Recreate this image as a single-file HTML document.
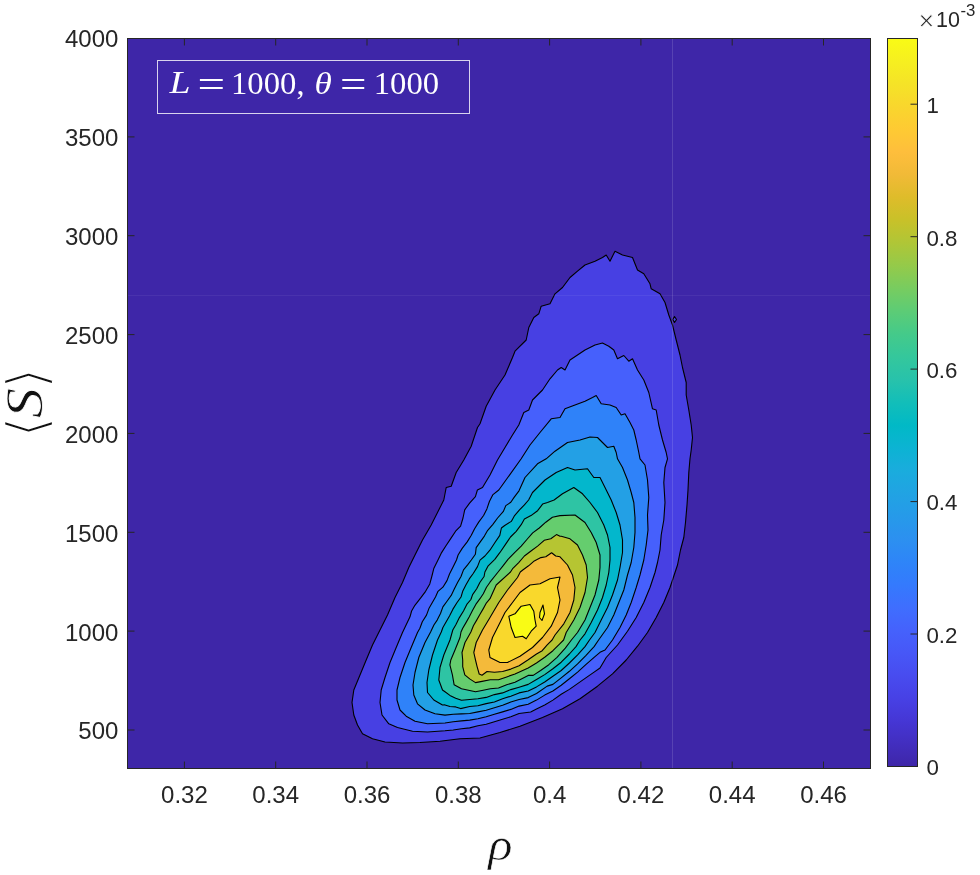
<!DOCTYPE html>
<html lang="en"><head><meta charset="utf-8"><title>Contour plot</title>
<style>
html,body{margin:0;padding:0;background:#fff;}
body{width:980px;height:875px;overflow:hidden;position:relative;}
svg{position:absolute;left:0;top:0;display:block;}
.t{font-family:"Liberation Sans",sans-serif;fill:#262626;}
.m{font-family:"Liberation Serif","DejaVu Serif",serif;}
.b{font-family:"DejaVu Sans","DejaVu Serif",sans-serif;}
</style></head><body>
<svg width="980" height="875" viewBox="0 0 980 875">
<defs><linearGradient id="pg" x1="0" y1="0" x2="0" y2="1"><stop offset="0.0000" stop-color="#f9fb15"/><stop offset="0.0312" stop-color="#f6ef20"/><stop offset="0.0625" stop-color="#f5e327"/><stop offset="0.0938" stop-color="#f9d62d"/><stop offset="0.1250" stop-color="#feca33"/><stop offset="0.1562" stop-color="#febe3c"/><stop offset="0.1875" stop-color="#f1ba37"/><stop offset="0.2188" stop-color="#debc2a"/><stop offset="0.2500" stop-color="#c8c129"/><stop offset="0.2812" stop-color="#afc637"/><stop offset="0.3125" stop-color="#94ca4a"/><stop offset="0.3438" stop-color="#77cc60"/><stop offset="0.3750" stop-color="#5ccc76"/><stop offset="0.4062" stop-color="#44ca8a"/><stop offset="0.4375" stop-color="#34c79c"/><stop offset="0.4688" stop-color="#28c2ab"/><stop offset="0.5000" stop-color="#12beb9"/><stop offset="0.5312" stop-color="#01b9c6"/><stop offset="0.5625" stop-color="#0cb3d3"/><stop offset="0.5938" stop-color="#1aacdd"/><stop offset="0.6250" stop-color="#21a3e3"/><stop offset="0.6562" stop-color="#269ae9"/><stop offset="0.6875" stop-color="#2c90f0"/><stop offset="0.7188" stop-color="#2e85f8"/><stop offset="0.7500" stop-color="#347afd"/><stop offset="0.7812" stop-color="#3f6efe"/><stop offset="0.8125" stop-color="#4562fc"/><stop offset="0.8438" stop-color="#4757f7"/><stop offset="0.8750" stop-color="#484cef"/><stop offset="0.9062" stop-color="#4741e5"/><stop offset="0.9375" stop-color="#4536d5"/><stop offset="0.9688" stop-color="#422ebf"/><stop offset="1.0000" stop-color="#3e26a8"/></linearGradient><clipPath id="ac"><rect x="127.5" y="38.5" width="743.0" height="730.0"/></clipPath></defs>
<rect x="127.5" y="38.5" width="743.0" height="730.0" fill="#3e26a8"/>
<g clip-path="url(#ac)" stroke="#000" stroke-width="1.1" stroke-linejoin="round">
<path d="M352.0 702.5 L353.8 690.0 L360.0 675.0 L366.2 660.0 L372.5 645.0 L380.0 630.0 L387.5 615.0 L395.0 597.5 L402.5 582.5 L408.8 567.5 L415.0 555.0 L422.5 540.0 L431.2 525.0 L437.5 512.5 L443.8 500.0 L446.2 487.5 L451.2 486.2 L456.2 472.5 L463.8 460.0 L471.2 446.2 L477.5 427.5 L480.0 423.8 L486.2 406.2 L495.0 390.0 L505.0 375.0 L512.5 357.5 L515.0 351.2 L526.2 340.0 L528.8 327.5 L533.8 317.5 L538.8 313.8 L541.2 306.2 L550.0 303.8 L555.0 293.8 L562.5 287.5 L570.0 277.5 L577.5 271.2 L585.0 265.0 L595.0 261.2 L602.5 257.5 L606.2 255.0 L610.0 261.2 L615.0 251.2 L622.5 255.0 L632.5 257.5 L637.5 270.0 L643.8 273.8 L650.0 283.8 L651.2 288.8 L660.0 293.8 L665.0 302.5 L668.8 315.0 L672.5 325.0 L676.2 340.0 L680.0 355.0 L682.5 367.5 L686.2 382.5 L686.2 395.0 L688.8 410.0 L691.2 425.0 L692.5 437.5 L691.2 450.0 L690.0 458.8 L688.8 472.5 L688.0 490.0 L687.0 505.0 L685.5 522.5 L683.8 537.5 L680.5 550.0 L677.5 565.0 L675.0 572.5 L670.0 587.5 L663.8 602.5 L656.2 617.5 L647.5 632.5 L637.5 646.2 L626.2 660.0 L612.5 673.8 L597.5 686.2 L580.0 698.8 L562.5 708.8 L542.5 717.5 L520.0 726.2 L500.0 732.5 L480.0 738.0 L460.0 738.8 L440.0 741.2 L420.0 742.5 L402.5 743.0 L385.0 742.0 L372.5 738.8 L362.5 733.8 L357.5 725.0 L353.8 715.0Z" fill="#4740e3"/>
<path d="M674.5 316.5 L676.5 319.5 L674.5 322.5 L672.8 319.5Z" fill="#4740e3"/>
<path d="M410.0 616.8 L411.6 611.0 L414.9 605.3 L420.7 597.9 L425.6 591.3 L429.8 583.9 L431.8 576.5 L433.9 568.2 L438.0 560.0 L441.6 552.6 L445.8 546.0 L450.7 538.6 L455.6 531.2 L460.6 526.2 L463.0 518.0 L464.7 509.8 L469.6 503.2 L475.4 496.6 L477.4 490.0 L482.5 487.5 L490.0 475.0 L497.5 460.0 L505.0 447.5 L512.5 435.0 L518.8 425.0 L523.8 412.5 L528.8 410.0 L532.5 400.0 L542.5 390.0 L550.0 378.8 L557.5 370.0 L561.2 367.5 L565.0 370.0 L570.0 360.0 L577.5 355.0 L585.0 350.0 L595.0 345.0 L602.5 343.0 L608.8 346.2 L613.8 350.0 L617.5 358.8 L623.8 355.5 L628.8 361.2 L632.5 358.8 L637.5 370.0 L643.8 380.0 L648.8 392.5 L652.5 408.8 L656.2 410.0 L658.8 425.0 L662.5 440.0 L666.2 452.5 L667.5 458.8 L665.0 467.5 L663.8 482.5 L665.0 502.5 L663.8 520.0 L661.2 535.0 L660.0 550.0 L657.5 562.5 L655.0 572.5 L650.0 587.5 L643.8 602.5 L636.2 617.5 L627.5 631.2 L617.5 645.0 L606.2 657.5 L600.0 668.0 L594.1 672.1 L585.8 677.9 L577.6 683.6 L569.4 689.4 L561.2 694.3 L552.9 700.1 L544.7 705.0 L536.5 709.1 L530.7 712.0 L519.1 713.5 L510.8 716.8 L502.6 719.3 L494.4 721.7 L486.2 724.2 L477.9 725.8 L469.7 727.9 L461.5 728.7 L453.2 730.0 L445.0 730.8 L427.5 732.0 L412.5 731.2 L397.5 727.5 L388.8 723.8 L382.0 715.0 L380.0 702.5 L381.2 690.0 L385.0 677.5 L390.0 662.5 L396.2 647.5 L402.5 632.5Z" fill="#4660fc"/>
<path d="M419.9 628.3 L422.3 621.7 L426.5 615.1 L428.9 608.6 L432.2 602.8 L435.5 597.0 L438.0 591.3 L442.9 587.2 L447.0 580.6 L449.5 574.0 L452.8 567.4 L456.5 560.0 L458.1 555.0 L462.2 548.4 L467.2 541.9 L471.3 535.3 L474.6 528.7 L478.7 522.1 L483.6 515.5 L486.9 508.9 L489.4 501.5 L492.7 494.9 L498.8 490.0 L521.2 458.8 L530.0 445.0 L540.0 432.5 L551.2 418.8 L560.0 417.5 L565.0 408.8 L575.0 405.0 L585.0 401.2 L592.5 397.5 L596.2 395.5 L601.2 403.8 L610.0 405.0 L616.2 407.5 L621.2 415.0 L625.0 413.8 L630.0 422.5 L633.8 430.0 L636.2 440.0 L638.8 452.5 L640.0 458.8 L645.0 465.0 L647.5 480.0 L648.8 497.5 L647.5 515.0 L648.0 530.0 L646.2 545.0 L643.8 560.0 L640.0 575.0 L636.2 587.5 L631.2 602.5 L626.2 615.0 L620.0 627.5 L612.5 640.0 L605.0 650.0 L600.0 652.3 L594.1 657.3 L585.8 664.7 L577.6 672.1 L569.4 678.7 L561.2 685.3 L552.9 691.0 L544.7 695.1 L536.5 700.1 L528.2 704.2 L519.1 706.1 L510.8 709.4 L502.6 711.9 L494.4 714.3 L486.2 716.8 L477.9 718.8 L469.7 720.1 L461.5 720.9 L453.2 721.7 L445.0 723.0 L427.5 723.8 L415.0 721.2 L406.2 716.2 L400.0 710.0 L397.0 700.0 L397.0 690.0 L400.0 677.5 L405.0 662.5 L411.2 647.5 L417.5 632.5Z" fill="#2f82f9"/>
<path d="M430.6 632.0 L433.9 625.0 L437.2 620.1 L440.5 613.5 L442.9 606.9 L447.0 601.2 L451.2 595.4 L454.4 588.8 L457.7 582.2 L461.0 576.5 L463.5 569.9 L467.6 564.9 L471.3 560.0 L475.4 554.2 L476.2 547.6 L480.3 541.9 L484.4 536.1 L487.7 530.3 L492.7 524.6 L497.6 518.0 L503.4 511.4 L505.8 505.6 L510.8 502.3 L514.1 497.4 L519.0 490.8 L525.0 477.5 L537.5 463.8 L546.2 458.8 L555.0 451.2 L567.5 442.5 L580.0 440.0 L590.0 437.0 L597.5 437.5 L602.5 442.5 L607.5 447.5 L613.8 446.2 L616.2 452.5 L617.5 458.8 L622.5 467.5 L627.5 480.0 L631.2 492.5 L633.8 502.5 L635.0 517.5 L635.0 532.5 L633.8 547.5 L631.2 562.5 L627.5 575.0 L623.8 590.0 L618.8 602.5 L613.8 615.0 L607.5 627.5 L598.6 640.0 L594.1 646.6 L585.8 655.6 L577.6 663.9 L569.4 671.3 L561.2 677.9 L552.9 684.4 L547.2 686.1 L536.5 693.5 L528.2 697.6 L519.1 699.5 L510.8 702.0 L502.6 705.3 L494.4 707.7 L486.2 710.2 L477.9 711.9 L469.7 713.5 L461.5 713.9 L453.2 714.3 L445.0 715.1 L435.0 713.8 L425.0 710.0 L417.5 703.8 L413.8 695.0 L413.0 685.0 L415.0 672.5 L418.8 657.5 L425.0 642.5Z" fill="#23a0e5"/>
<path d="M480.0 560.1 L484.9 556.0 L489.9 550.2 L494.8 542.8 L499.8 535.4 L501.4 528.0 L504.7 525.5 L511.3 521.4 L514.6 515.6 L519.5 509.9 L524.4 504.9 L528.6 500.0 L532.5 492.5 L545.0 480.0 L556.2 472.5 L567.5 467.5 L575.0 470.0 L587.5 468.8 L593.8 477.5 L600.0 477.5 L605.0 487.5 L611.2 500.0 L616.2 512.5 L620.0 525.0 L622.5 540.0 L622.5 552.5 L620.0 567.5 L617.5 580.0 L612.5 595.0 L607.5 607.5 L601.2 620.0 L595.0 632.5 L589.5 640.0 L585.0 646.6 L577.6 654.8 L569.4 663.0 L561.2 670.5 L552.9 676.2 L544.7 682.0 L536.5 686.9 L528.2 691.0 L519.1 692.9 L510.8 696.2 L502.6 698.7 L494.4 702.0 L486.2 703.6 L477.9 705.7 L469.7 706.5 L460.6 708.6 L455.7 706.9 L449.9 706.5 L445.0 704.9 L442.5 705.0 L433.8 700.0 L427.5 692.5 L427.0 682.5 L428.8 670.0 L432.5 655.0 L437.5 640.0 L441.3 632.0 L442.9 627.5 L446.2 621.7 L449.5 616.0 L452.8 609.4 L456.9 602.8 L461.0 597.0 L462.7 591.3 L466.0 584.7 L469.3 578.9 L473.4 573.2 L477.5 566.6Z" fill="#03b7cc"/>
<path d="M484.9 572.0 L488.2 565.8 L494.8 559.3 L499.8 552.7 L505.5 544.4 L510.5 537.0 L516.2 531.3 L521.2 524.7 L524.4 518.9 L531.0 515.6 L537.6 510.7 L542.6 504.1 L547.5 502.5 L554.1 500.0 L562.5 493.8 L573.8 487.5 L582.5 493.8 L590.0 502.5 L597.5 512.5 L603.8 525.0 L607.5 535.0 L610.0 547.5 L610.0 560.0 L608.8 572.5 L606.2 585.0 L602.5 597.5 L597.5 610.0 L591.2 622.5 L585.0 633.8 L580.1 640.0 L576.0 646.6 L569.4 654.0 L561.2 662.2 L552.9 668.8 L544.7 674.6 L536.5 679.5 L528.2 684.4 L519.1 687.2 L510.8 689.6 L502.6 692.9 L494.4 694.6 L486.2 697.4 L477.9 698.7 L469.7 699.5 L461.5 700.3 L455.7 698.3 L449.9 695.4 L445.0 691.7 L442.5 690.0 L438.8 680.0 L440.0 667.5 L443.8 655.0 L450.0 640.0 L452.8 630.0 L456.1 624.2 L459.4 617.6 L463.5 611.0 L466.8 604.4 L470.9 599.5 L472.6 594.6 L476.7 588.8 L480.0 582.2 L484.1 576.5Z" fill="#2ec4a4"/>
<path d="M498.1 572.0 L503.0 565.8 L508.0 559.3 L514.6 552.7 L521.2 546.1 L526.9 539.5 L532.7 532.9 L539.3 528.0 L545.8 522.2 L552.4 517.3 L560.0 515.6 L575.0 515.0 L585.0 522.5 L591.2 532.5 L596.2 542.5 L600.0 555.0 L600.0 567.5 L598.8 580.0 L595.0 595.0 L590.0 607.5 L585.0 620.0 L577.5 632.5 L571.4 640.0 L565.3 648.2 L557.0 657.3 L548.8 664.7 L540.6 670.5 L533.2 675.4 L528.2 675.4 L515.0 682.2 L506.7 684.7 L498.5 688.0 L490.3 688.8 L482.0 690.5 L475.5 691.7 L469.7 690.5 L461.5 688.8 L454.1 684.7 L452.4 674.8 L449.9 664.9 L450.8 660.0 L455.0 650.0 L460.0 637.5 L461.0 632.0 L462.7 628.3 L466.0 622.6 L469.3 616.8 L472.6 610.2 L475.8 604.4 L480.0 598.7 L483.3 593.7 L486.5 587.2 L490.0 582.2Z" fill="#65cd6e"/>
<path d="M510.5 572.0 L512.9 568.3 L518.7 562.6 L524.4 556.0 L531.0 551.0 L537.6 546.1 L544.2 540.3 L550.8 538.7 L556.5 534.6 L560.0 536.2 L561.2 536.2 L570.0 538.8 L577.5 545.0 L582.5 555.0 L586.2 565.0 L587.5 577.5 L585.0 592.5 L580.0 607.5 L573.8 620.0 L566.2 632.5 L563.6 640.0 L559.5 644.1 L552.9 650.7 L544.7 657.3 L536.5 663.0 L528.2 668.0 L515.0 674.0 L506.7 676.9 L498.5 679.8 L490.3 679.8 L482.0 681.4 L475.5 682.6 L469.7 678.9 L464.8 674.8 L462.7 666.6 L462.7 660.0 L462.0 652.5 L465.0 642.5 L470.9 632.0 L473.4 625.8 L476.7 620.1 L480.0 614.3 L483.3 608.6 L486.5 602.8 L490.0 598.7 L496.2 585.0Z" fill="#b6c532"/>
<path d="M520.3 572.0 L522.8 570.0 L528.6 565.8 L534.3 560.9 L540.9 557.6 L545.8 556.8 L551.6 552.7 L555.7 556.0 L560.0 556.8 L567.5 565.0 L572.5 575.0 L575.0 587.5 L573.8 600.0 L570.0 612.5 L563.8 623.8 L555.0 635.0 L552.1 640.0 L547.2 644.9 L542.2 650.7 L536.5 654.0 L528.2 659.8 L519.1 665.8 L510.8 669.1 L502.6 671.5 L494.4 672.3 L487.0 671.5 L482.0 675.2 L479.2 674.0 L477.1 666.6 L475.5 660.0 L473.8 652.5 L476.2 642.5 L482.5 630.0 L490.0 617.5 L498.8 602.5 L507.5 590.0 L517.5 577.5Z" fill="#f4ba3a"/>
<path d="M488.8 650.0 L492.5 637.5 L498.8 625.0 L505.0 612.5 L512.5 602.5 L520.0 592.5 L530.0 585.0 L540.0 583.8 L550.0 578.8 L560.0 577.0 L557.5 587.5 L560.0 600.0 L557.5 612.5 L551.2 626.2 L542.5 637.5 L532.5 647.5 L520.0 656.2 L507.5 662.5 L500.0 662.5 L490.0 657.5Z" fill="#f9d82c"/>
<path d="M508.8 616.2 L515.0 613.8 L521.2 606.2 L530.0 604.5 L533.8 611.2 L535.0 620.0 L536.2 626.2 L531.2 631.2 L526.2 638.8 L522.5 636.2 L515.0 637.5 L511.2 627.5Z" fill="#f9fb15"/>
<path d="M540.0 612.5 L543.0 605.0 L544.5 613.8 L542.0 620.5 L539.5 617.5Z" fill="#f9fb15"/>
</g>
<line x1="672.5" y1="38.5" x2="672.5" y2="768.5" stroke="#fff" stroke-opacity="0.13" stroke-width="1"/>
<line x1="127.5" y1="295.5" x2="870.5" y2="295.5" stroke="#fff" stroke-opacity="0.06" stroke-width="1"/>
<path d="M184.4 768.5v-7M184.4 38.5v7M275.7 768.5v-7M275.7 38.5v7M367.0 768.5v-7M367.0 38.5v7M458.3 768.5v-7M458.3 38.5v7M549.6 768.5v-7M549.6 38.5v7M640.9 768.5v-7M640.9 38.5v7M732.2 768.5v-7M732.2 38.5v7M823.5 768.5v-7M823.5 38.5v7M127.5 730.0h7M870.5 730.0h-7M127.5 631.1h7M870.5 631.1h-7M127.5 532.3h7M870.5 532.3h-7M127.5 433.4h7M870.5 433.4h-7M127.5 334.6h7M870.5 334.6h-7M127.5 235.7h7M870.5 235.7h-7M127.5 136.9h7M870.5 136.9h-7" stroke="#262626" stroke-width="1" fill="none"/>
<rect x="127.5" y="38.5" width="743.0" height="730.0" fill="none" stroke="#262626" stroke-width="1"/>
<text class="t" x="184.4" y="803.2" font-size="24.0" text-anchor="middle">0.32</text>
<text class="t" x="275.7" y="803.2" font-size="24.0" text-anchor="middle">0.34</text>
<text class="t" x="367.0" y="803.2" font-size="24.0" text-anchor="middle">0.36</text>
<text class="t" x="458.3" y="803.2" font-size="24.0" text-anchor="middle">0.38</text>
<text class="t" x="549.6" y="803.2" font-size="24.0" text-anchor="middle">0.4</text>
<text class="t" x="640.9" y="803.2" font-size="24.0" text-anchor="middle">0.42</text>
<text class="t" x="732.2" y="803.2" font-size="24.0" text-anchor="middle">0.44</text>
<text class="t" x="823.5" y="803.2" font-size="24.0" text-anchor="middle">0.46</text>
<text class="t" x="118.4" y="739.4" font-size="24.0" text-anchor="end">500</text>
<text class="t" x="118.4" y="640.5" font-size="24.0" text-anchor="end">1000</text>
<text class="t" x="118.4" y="541.7" font-size="24.0" text-anchor="end">1500</text>
<text class="t" x="118.4" y="442.8" font-size="24.0" text-anchor="end">2000</text>
<text class="t" x="118.4" y="344.0" font-size="24.0" text-anchor="end">2500</text>
<text class="t" x="118.4" y="245.1" font-size="24.0" text-anchor="end">3000</text>
<text class="t" x="118.4" y="146.3" font-size="24.0" text-anchor="end">3500</text>
<text class="t" x="118.4" y="47.4" font-size="24.0" text-anchor="end">4000</text>
<rect x="887.5" y="38.5" width="30.0" height="728.0" fill="url(#pg)" stroke="#262626" stroke-width="1"/>
<path d="M917.5 634.0h-7M917.5 501.6h-7M917.5 369.1h-7M917.5 236.7h-7M917.5 104.2h-7" stroke="#262626" stroke-width="1" fill="none"/>
<text class="t" x="926.4" y="775.3" font-size="22.3">0</text>
<text class="t" x="926.4" y="642.8" font-size="22.3">0.2</text>
<text class="t" x="926.4" y="510.4" font-size="22.3">0.4</text>
<text class="t" x="926.4" y="377.9" font-size="22.3">0.6</text>
<text class="t" x="926.4" y="245.5" font-size="22.3">0.8</text>
<text class="t" x="926.4" y="113.0" font-size="22.3">1</text>
<text class="t" x="918.6" y="29.6" font-size="27" stroke="#fff" stroke-width="0.7">×</text><text class="t" x="936.1" y="27" font-size="21.5">10</text><text class="t" x="960.4" y="15.8" font-size="16.8">-3</text>
<rect x="157.5" y="60.5" width="312" height="53" fill="none" stroke="#fff" stroke-opacity="0.8" stroke-width="1"/>
<g class="m" fill="#fff" font-size="32"><text x="169.5" y="93.2" font-style="italic" textLength="21" lengthAdjust="spacingAndGlyphs">L</text><text x="197.6" y="95.2" textLength="27.6" lengthAdjust="spacingAndGlyphs" transform="translate(0,84.2) scale(1,1.22) translate(0,-84.2)">=</text><text x="231" y="93.7" textLength="65.4" lengthAdjust="spacingAndGlyphs">1000</text><text x="296.6" y="93.7">,</text><text x="314.5" y="93.7" font-style="italic" textLength="17.3" lengthAdjust="spacingAndGlyphs">θ</text><text x="340.1" y="95.2" textLength="26.5" lengthAdjust="spacingAndGlyphs" transform="translate(0,84.2) scale(1,1.22) translate(0,-84.2)">=</text><text x="373.7" y="93.7" textLength="65.4" lengthAdjust="spacingAndGlyphs">1000</text></g>
<text class="m" x="488.3" y="860.2" font-size="46" font-style="italic" fill="#111" textLength="24.3" lengthAdjust="spacingAndGlyphs" stroke="#fff" stroke-width="0.6">ρ</text>
<g transform="translate(41.5,403) rotate(-90)" fill="#111"><text class="b" x="-34.8" y="4" font-size="55" textLength="21.5" lengthAdjust="spacingAndGlyphs" stroke="#fff" stroke-width="2.3">⟨</text><text class="m" x="-15.2" y="0.3" font-size="53.5" font-style="italic" textLength="30.5" lengthAdjust="spacingAndGlyphs" stroke="#fff" stroke-width="0.8">S</text><text class="b" x="14" y="4" font-size="55" textLength="21.5" lengthAdjust="spacingAndGlyphs" stroke="#fff" stroke-width="2.3">⟩</text></g>
</svg>
</body></html>
